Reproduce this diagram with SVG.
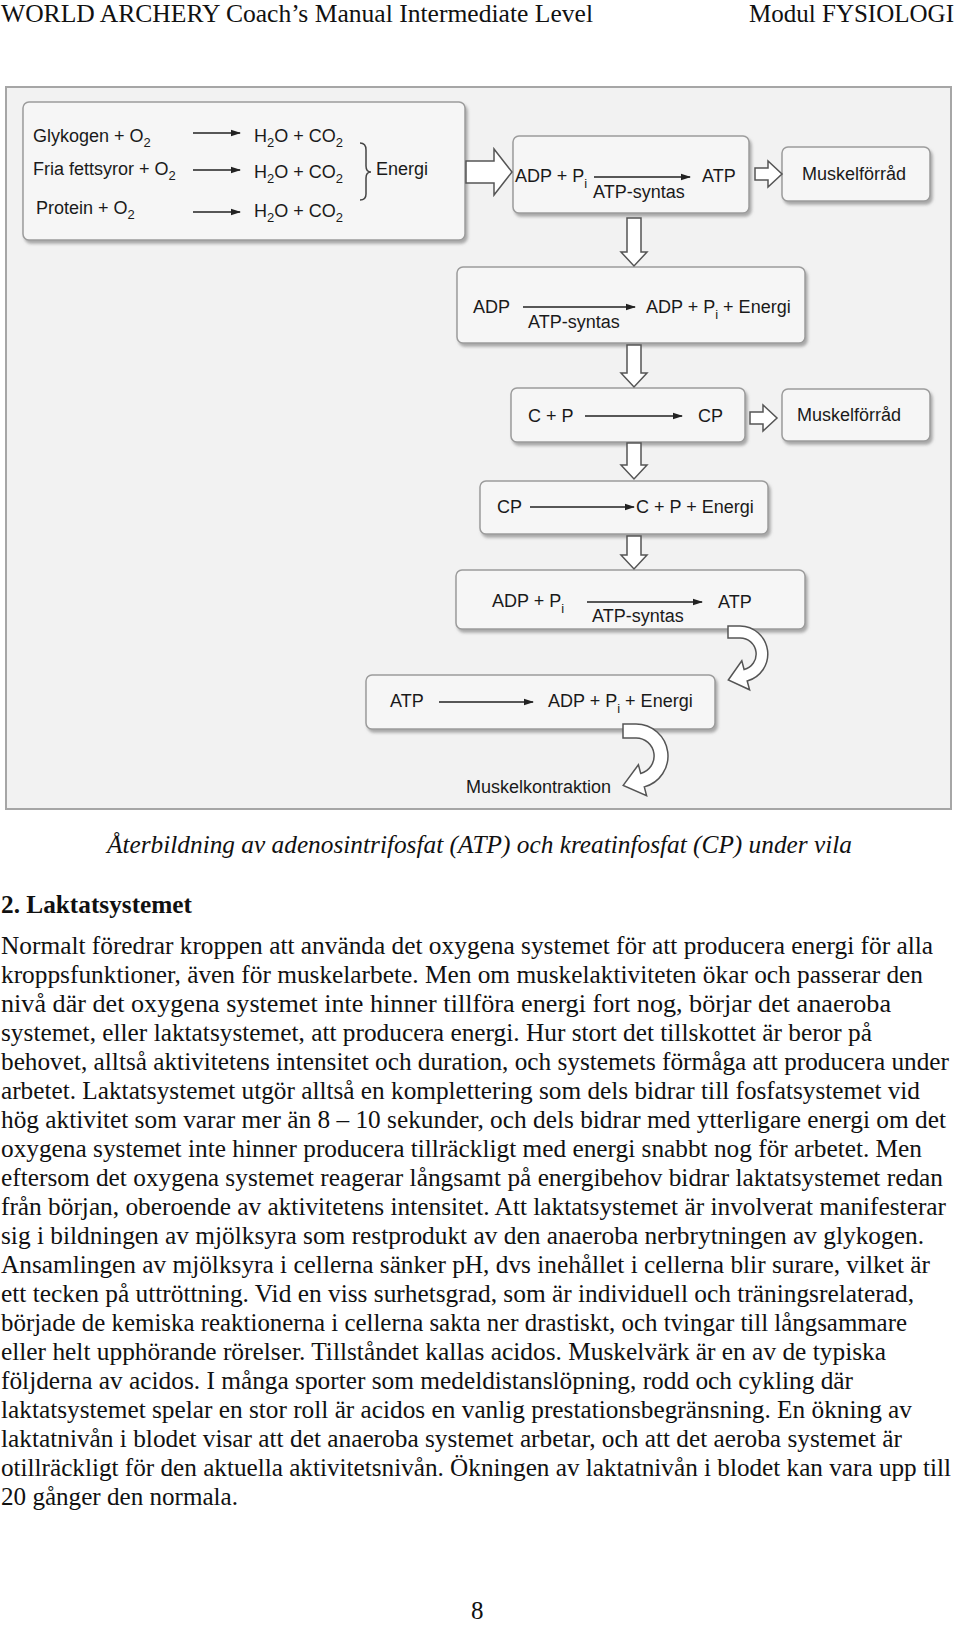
<svg xmlns="http://www.w3.org/2000/svg" width="960" height="1627" viewBox="0 0 960 1627">
<style>
.pg{font-family:"Liberation Serif","Times New Roman",serif;font-size:25px;fill:#111}
.hd{font-size:26px}
.it{font-style:italic}
.bd{font-weight:bold}
.dg{font-family:"Liberation Sans",Arial,sans-serif;font-size:18px;fill:#1a1a1a}
.box{fill:#f6f6f6;stroke:#9c9c9c;stroke-width:1.5}
.ha{fill:#ffffff;stroke:#555;stroke-width:1.5;stroke-linejoin:miter}
.ln{stroke:#222;stroke-width:1.6;fill:none}
</style>
<defs>
<filter id="sh" x="-10%" y="-10%" width="130%" height="140%">
<feDropShadow dx="2" dy="3" stdDeviation="1.5" flood-color="#777" flood-opacity="0.6"/>
</filter>
<marker id="ah" markerWidth="10" markerHeight="8" refX="9" refY="4" orient="auto" markerUnits="userSpaceOnUse">
<path d="M0,0.8 L10,4 L0,7.2 Z" fill="#222"/>
</marker>
</defs>
<rect width="960" height="1627" fill="#ffffff"/>

<g id="header">
<text class="pg hd" x="1" y="22" textLength="592" lengthAdjust="spacingAndGlyphs">WORLD ARCHERY Coach’s Manual Intermediate Level</text>
<text class="pg hd" x="749" y="22" textLength="205" lengthAdjust="spacingAndGlyphs">Modul FYSIOLOGI</text>
</g>

<g id="frame">
<rect x="6" y="87" width="945" height="722" fill="#f2f2f2" stroke="#a6a6a6" stroke-width="2"/>
</g>

<g id="node-oxidation">
<rect class="box" x="23" y="102" width="442" height="138" rx="6" filter="url(#sh)"/>
<text class="dg" x="33" y="142">Glykogen + O<tspan dy="5" font-size="13">2</tspan></text>
<text class="dg" x="254" y="142">H<tspan dy="5" font-size="13">2</tspan><tspan dy="-5">O + CO</tspan><tspan dy="5" font-size="13">2</tspan></text>
<text class="dg" x="33" y="175">Fria fettsyror + O<tspan dy="5" font-size="13">2</tspan></text>
<text class="dg" x="254" y="178">H<tspan dy="5" font-size="13">2</tspan><tspan dy="-5">O + CO</tspan><tspan dy="5" font-size="13">2</tspan></text>
<text class="dg" x="36" y="214">Protein + O<tspan dy="5" font-size="13">2</tspan></text>
<text class="dg" x="254" y="217">H<tspan dy="5" font-size="13">2</tspan><tspan dy="-5">O + CO</tspan><tspan dy="5" font-size="13">2</tspan></text>
<path d="M360,143 Q366,143 366,150 L366,166 Q366,172 371,172 Q366,172 366,178 L366,194 Q366,200 360,200" fill="none" stroke="#444" stroke-width="1.5"/>
<text class="dg" x="376" y="175">Energi</text>
</g>

<g id="node-atp-synthesis-1">
<rect class="box" x="513" y="136" width="236" height="77" rx="6" filter="url(#sh)"/>
<text class="dg" x="515" y="182">ADP + P<tspan dy="6" font-size="13">i</tspan></text>
<text class="dg" x="702" y="182">ATP</text>
<text class="dg" x="593" y="198">ATP-syntas</text>
</g>

<g id="node-muskelforrad-1">
<rect class="box" x="782" y="147" width="148" height="54" rx="6" filter="url(#sh)"/>
<text class="dg" x="802" y="180">Muskelförråd</text>
</g>

<g id="node-adp-split">
<rect class="box" x="457" y="267" width="348" height="76" rx="6" filter="url(#sh)"/>
<text class="dg" x="473" y="313">ADP</text>
<text class="dg" x="646" y="313">ADP + P<tspan dy="6" font-size="13">i</tspan><tspan dy="-6"> + Energi</tspan></text>
<text class="dg" x="528" y="328">ATP-syntas</text>
</g>

<g id="node-cp-synthesis">
<rect class="box" x="511" y="388" width="234" height="54" rx="6" filter="url(#sh)"/>
<text class="dg" x="528" y="422">C + P</text>
<text class="dg" x="698" y="422">CP</text>
</g>

<g id="node-muskelforrad-2">
<rect class="box" x="782" y="389" width="148" height="52" rx="6" filter="url(#sh)"/>
<text class="dg" x="797" y="421">Muskelförråd</text>
</g>

<g id="node-cp-split">
<rect class="box" x="480" y="481" width="288" height="53" rx="6" filter="url(#sh)"/>
<text class="dg" x="497" y="513">CP</text>
<text class="dg" x="636" y="513">C + P + Energi</text>
</g>

<g id="node-atp-synthesis-2">
<rect class="box" x="456" y="570" width="349" height="59" rx="6" filter="url(#sh)"/>
<text class="dg" x="492" y="607">ADP + P<tspan dy="6" font-size="13">i</tspan></text>
<text class="dg" x="718" y="608">ATP</text>
<text class="dg" x="592" y="622">ATP-syntas</text>
</g>

<g id="node-atp-split">
<rect class="box" x="366" y="675" width="349" height="54" rx="6" filter="url(#sh)"/>
<text class="dg" x="390" y="707">ATP</text>
<text class="dg" x="548" y="707">ADP + P<tspan dy="6" font-size="13">i</tspan><tspan dy="-6"> + Energi</tspan></text>
</g>

<g id="node-muskelkontraktion">
<text class="dg" x="466" y="793">Muskelkontraktion</text>
</g>

<g id="connectors">
<line class="ln" x1="193" y1="133" x2="240" y2="133" marker-end="url(#ah)"/>
<line class="ln" x1="193" y1="170" x2="240" y2="170" marker-end="url(#ah)"/>
<line class="ln" x1="193" y1="212" x2="240" y2="212" marker-end="url(#ah)"/>
<line class="ln" x1="594" y1="177" x2="690" y2="177" marker-end="url(#ah)"/>
<line class="ln" x1="523" y1="307" x2="635" y2="307" marker-end="url(#ah)"/>
<line class="ln" x1="585" y1="416" x2="682" y2="416" marker-end="url(#ah)"/>
<line class="ln" x1="530" y1="507" x2="634" y2="507" marker-end="url(#ah)"/>
<line class="ln" x1="587" y1="602" x2="702" y2="602" marker-end="url(#ah)"/>
<line class="ln" x1="439" y1="702" x2="533" y2="702" marker-end="url(#ah)"/>
<path class="ha" d="M466,161 L494,161 L494,149 L512,172 L494,195 L494,183 L466,183 Z"/>
<path class="ha" d="M755,168 L768,168 L768,161 L782,174 L768,187 L768,180 L755,180 Z"/>
<path class="ha" d="M750,412 L763,412 L763,405 L777,418 L763,431 L763,424 L750,424 Z"/>
<path class="ha" d="M627,218 L641,218 L641,252 L647,252 L634,266 L621,252 L627,252 Z"/>
<path class="ha" d="M627,345 L641,345 L641,373 L647,373 L634,387 L621,373 L627,373 Z"/>
<path class="ha" d="M627,443 L641,443 L641,465 L647,465 L634,479 L621,465 L627,465 Z"/>
<path class="ha" d="M627,536 L641,536 L641,555 L647,555 L634,569 L621,555 L627,555 Z"/>
<path class="ha" d="M728,626 L740,626 A28,28 0 0 1 747.2,681 L749.6,689.8 L728.3,680 L741.8,660.8 L744.1,669.5 A16,16 0 0 0 740,638 L728,638 Z"/>
<path class="ha" d="M623,724 L636,724 A32,32 0 0 1 644.3,786.9 L646.6,795.7 L623.2,785.4 L638.4,764.7 L640.7,773.4 A18,18 0 0 0 636,738 L623,738 Z"/>
</g>

<g id="caption">
<text class="pg it" x="107" y="853" textLength="745" lengthAdjust="spacingAndGlyphs">Återbildning av adenosintrifosfat (ATP) och kreatinfosfat (CP) under vila</text>
</g>

<g id="body">
<text class="pg bd" x="1" y="913" textLength="191" lengthAdjust="spacingAndGlyphs">2. Laktatsystemet</text>
<text class="pg" x="1" y="954" textLength="932" lengthAdjust="spacingAndGlyphs">Normalt föredrar kroppen att använda det oxygena systemet för att producera energi för alla</text>
<text class="pg" x="1" y="983" textLength="922" lengthAdjust="spacingAndGlyphs">kroppsfunktioner, även för muskelarbete. Men om muskelaktiviteten ökar och passerar den</text>
<text class="pg" x="1" y="1012" textLength="890" lengthAdjust="spacingAndGlyphs">nivå där det oxygena systemet inte hinner tillföra energi fort nog, börjar det anaeroba</text>
<text class="pg" x="1" y="1041" textLength="871" lengthAdjust="spacingAndGlyphs">systemet, eller laktatsystemet, att producera energi. Hur stort det tillskottet är beror på</text>
<text class="pg" x="1" y="1070" textLength="948" lengthAdjust="spacingAndGlyphs">behovet, alltså aktivitetens intensitet och duration, och systemets förmåga att producera under</text>
<text class="pg" x="1" y="1099" textLength="919" lengthAdjust="spacingAndGlyphs">arbetet. Laktatsystemet utgör alltså en komplettering som dels bidrar till fosfatsystemet vid</text>
<text class="pg" x="1" y="1128" textLength="945" lengthAdjust="spacingAndGlyphs">hög aktivitet som varar mer än 8 – 10 sekunder, och dels bidrar med ytterligare energi om det</text>
<text class="pg" x="1" y="1157" textLength="921" lengthAdjust="spacingAndGlyphs">oxygena systemet inte hinner producera tillräckligt med energi snabbt nog för arbetet. Men</text>
<text class="pg" x="1" y="1186" textLength="942" lengthAdjust="spacingAndGlyphs">eftersom det oxygena systemet reagerar långsamt på energibehov bidrar laktatsystemet redan</text>
<text class="pg" x="1" y="1215" textLength="945" lengthAdjust="spacingAndGlyphs">från början, oberoende av aktivitetens intensitet. Att laktatsystemet är involverat manifesterar</text>
<text class="pg" x="1" y="1244" textLength="923" lengthAdjust="spacingAndGlyphs">sig i bildningen av mjölksyra som restprodukt av den anaeroba nerbrytningen av glykogen.</text>
<text class="pg" x="1" y="1273" textLength="929" lengthAdjust="spacingAndGlyphs">Ansamlingen av mjölksyra i cellerna sänker pH, dvs inehållet i cellerna blir surare, vilket är</text>
<text class="pg" x="1" y="1302" textLength="913" lengthAdjust="spacingAndGlyphs">ett tecken på uttröttning. Vid en viss surhetsgrad, som är individuell och träningsrelaterad,</text>
<text class="pg" x="1" y="1331" textLength="906" lengthAdjust="spacingAndGlyphs">började de kemiska reaktionerna i cellerna sakta ner drastiskt, och tvingar till långsammare</text>
<text class="pg" x="1" y="1360" textLength="885" lengthAdjust="spacingAndGlyphs">eller helt upphörande rörelser. Tillståndet kallas acidos. Muskelvärk är en av de typiska</text>
<text class="pg" x="1" y="1389" textLength="852" lengthAdjust="spacingAndGlyphs">följderna av acidos. I många sporter som medeldistanslöpning, rodd och cykling där</text>
<text class="pg" x="1" y="1418" textLength="911" lengthAdjust="spacingAndGlyphs">laktatsystemet spelar en stor roll är acidos en vanlig prestationsbegränsning. En ökning av</text>
<text class="pg" x="1" y="1447" textLength="901" lengthAdjust="spacingAndGlyphs">laktatnivån i blodet visar att det anaeroba systemet arbetar, och att det aeroba systemet är</text>
<text class="pg" x="1" y="1476" textLength="950" lengthAdjust="spacingAndGlyphs">otillräckligt för den aktuella aktivitetsnivån. Ökningen av laktatnivån i blodet kan vara upp till</text>
<text class="pg" x="1" y="1505" textLength="237" lengthAdjust="spacingAndGlyphs">20 gånger den normala.</text>
</g>

<g id="footer">
<text class="pg" x="471" y="1619">8</text>
</g>
</svg>
